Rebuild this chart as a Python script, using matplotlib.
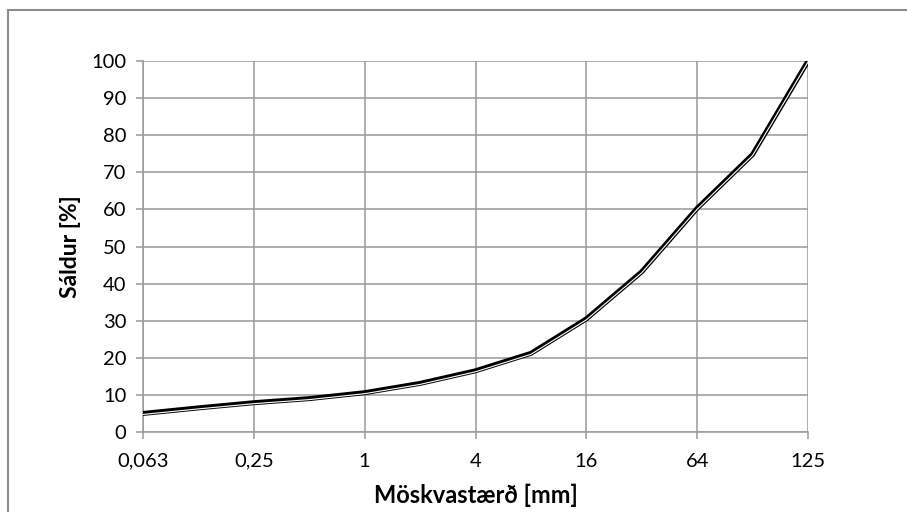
import matplotlib
matplotlib.use("Agg")
import matplotlib.pyplot as plt
from matplotlib.patches import Rectangle
import matplotlib.transforms as mtransforms

categories = ["0,063", "0,125", "0,25", "0,5", "1", "2", "4", "8", "16", "32", "64", "90", "125"]
passing = [5.0, 6.5, 7.9, 9.0, 10.6, 13.1, 16.5, 21.2, 30.5, 43.2, 60.3, 74.8, 100.0]
shown_labels = ["0,063", "0,25", "1", "4", "16", "64", "125"]
y_ticks = list(range(0, 101, 10))

plt.rcParams['font.family'] = ['Lato', 'DejaVu Sans']

W, H = 907, 512
fig = plt.figure(figsize=(W / 100, H / 100), dpi=100)
ax = fig.add_axes([143 / W, 1 - 432 / H, (808 - 143) / W, (432 - 61) / H])

# outer chart border
fig.patches.append(Rectangle((8 / W, -0.1), 1.2, 1 - 10 / H + 0.1, transform=fig.transFigure,
                             fill=False, edgecolor='#8c8c8c', linewidth=1.5))

x = list(range(len(categories)))
ax.plot(x, passing, color='black', linewidth=3.6, solid_joinstyle='round', zorder=3)
off = mtransforms.offset_copy(ax.transData, fig=fig, x=0, y=-1.0, units='dots')
ax.plot(x, passing, color='white', linewidth=0.8, transform=off, zorder=4)

ax.set_xlim(0, len(categories) - 1)
ax.set_ylim(0, 100)
ax.set_yticks(y_ticks)
ax.set_yticklabels([str(v) for v in y_ticks])
tick_pos = [categories.index(c) for c in shown_labels]
ax.set_xticks(tick_pos)
ax.set_xticklabels(shown_labels)

ax.grid(True, color='#999999', linewidth=1.1)
ax.set_axisbelow(True)
for s in ['top', 'right']:
    ax.spines[s].set_visible(False)
for s in ['left', 'bottom']:
    ax.spines[s].set_color('#999999')
    ax.spines[s].set_linewidth(1.1)
ax.tick_params(axis='both', colors='#999999', length=5, width=1.1, labelcolor='black',
               labelsize=14.5)
ax.tick_params(axis='x', pad=10)
ax.tick_params(axis='y', pad=7)

ax.set_xlabel("Möskvastærð [mm]", fontsize=17, fontweight='bold', labelpad=10)
ax.set_ylabel("Sáldur [%]", fontsize=16.5, fontweight='bold', labelpad=7)

fig.savefig("out.png", dpi=100)
